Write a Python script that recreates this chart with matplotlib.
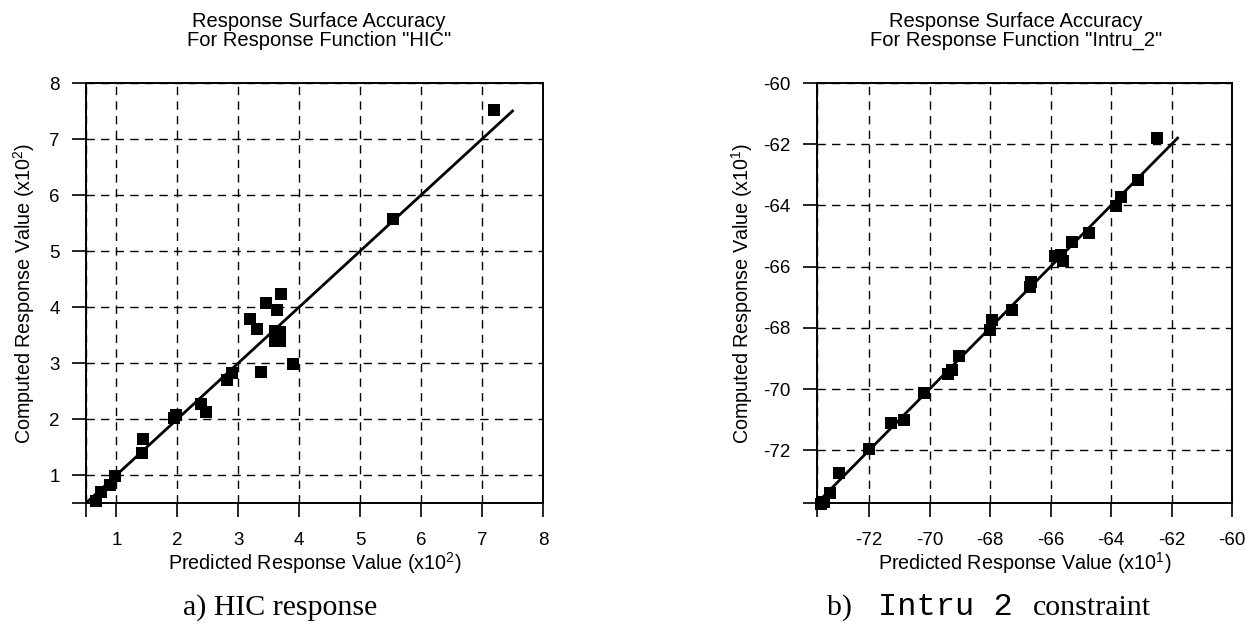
import matplotlib
matplotlib.use('Agg')
import matplotlib.pyplot as plt

plt.rcParams['font.family'] = ['Liberation Sans', 'DejaVu Sans']
plt.rcParams['mathtext.fontset'] = 'custom'
plt.rcParams['mathtext.rm'] = 'Liberation Sans'
plt.rcParams['mathtext.it'] = 'Liberation Sans:italic'

# ---------------- data ----------------
hic_pred = [7.20, 5.54, 3.70, 3.46, 3.63, 3.19, 3.30, 3.60, 3.68, 3.60, 3.68, 3.89,
            3.38, 2.89, 2.81, 2.38, 2.47, 1.97, 1.95, 1.435, 1.42, 0.98, 0.886, 0.74, 0.67]
hic_comp = [7.52, 5.58, 4.24, 4.07, 3.95, 3.78, 3.61, 3.58, 3.55, 3.39, 3.39, 2.98,
            2.84, 2.83, 2.70, 2.27, 2.12, 2.08, 2.01, 1.65, 1.40, 0.99, 0.83, 0.69, 0.54]
hic_fit = [0.5, 7.5]
hic_lim = [0.5, 8]
hic_ticks = [1, 2, 3, 4, 5, 6, 7, 8]
hic_ticklabels = ['1', '2', '3', '4', '5', '6', '7', '8']

intru_pred = [-62.48, -63.11, -63.66, -63.85, -64.72, -65.30, -65.86, -65.64, -65.60,
              -66.63, -66.67, -67.26, -67.92, -68.01, -69.02, -69.25, -69.40, -70.18,
              -70.83, -71.27, -72.00, -72.98, -73.30, -73.50, -73.58]
intru_comp = [-61.79, -63.18, -63.73, -64.02, -64.89, -65.18, -65.66, -65.61, -65.82,
              -66.49, -66.67, -67.41, -67.74, -68.08, -68.92, -69.39, -69.52, -70.13,
              -71.00, -71.10, -71.96, -72.73, -73.39, -73.69, -73.74]
intru_fit = [-73.72, -61.8]
intru_lim = [-73.72, -60]
intru_ticks = [-72, -70, -68, -66, -64, -62, -60]
intru_ticklabels = ['-72', '-70', '-68', '-66', '-64', '-62', '-60']

FS_TICK = 13.5
FS_LABEL = 14.2
FS_TITLE = 14.5
fig = plt.figure(figsize=(12.56, 6.3), dpi=100)
W, H = 1256, 630
ax1 = fig.add_axes([86 / W, 127 / H, 457 / W, 420 / H])
ax2 = fig.add_axes([817 / W, 127 / H, 415 / W, 420 / H])


def style(ax, pred, comp, fit, lim, ticks, labels, title, xlabel, ylabel, ylab_x, title_x):
    ax.plot(fit, fit, color='black', linewidth=2.0, zorder=3)
    ax.plot(pred, comp, linestyle='none', marker='s', markersize=8, markeredgewidth=0,
            color='black', zorder=4, clip_on=False)
    ax.set_xlim(lim)
    ax.set_ylim(lim)
    ax.set_xticks([lim[0]] + ticks)
    ax.set_xticklabels([''] + labels)
    ax.set_yticks([lim[0]] + ticks)
    ax.set_yticklabels([''] + labels)
    ax.grid(True, color='black', linestyle=(0, (6, 4.5)), linewidth=1.0)
    ax.set_axisbelow(True)
    ax.tick_params(direction='out', length=10, width=1.2, labelsize=FS_TICK, colors='black')
    ax.tick_params(axis='x', pad=11)
    ax.tick_params(axis='y', pad=9)
    for s in ax.spines.values():
        s.set_linewidth(1.4)
        s.set_color('black')
    ax.set_title(title, fontsize=FS_TITLE, linespacing=0.95, pad=27, x=title_x)
    ax.set_xlabel(xlabel, fontsize=FS_LABEL)
    ax.xaxis.set_label_coords(0.5, -0.113)
    ax.set_ylabel(ylabel, fontsize=FS_LABEL)
    ax.yaxis.set_label_coords(ylab_x, 0.5)


style(ax1, hic_pred, hic_comp, hic_fit, hic_lim, hic_ticks, hic_ticklabels,
      'Response Surface Accuracy\nFor Response Function "HIC"',
      r'Predicted Response Value (x10$^{\mathregular{2}}$)',
      r'Computed Response Value (x10$^{\mathregular{2}}$)', -0.108, 0.51)
style(ax2, intru_pred, intru_comp, intru_fit, intru_lim, intru_ticks, intru_ticklabels,
      'Response Surface Accuracy\nFor Response Function "Intru_2"',
      r'Predicted Response Value (x10$^{\mathregular{1}}$)',
      r'Computed Response Value (x10$^{\mathregular{1}}$)', -0.15, 0.48)

cap_y = 15 / H
fig.text(280 / W, cap_y, 'a) HIC response', family='Liberation Serif', fontsize=21.5,
         ha='center', va='baseline')
fig.text(827 / W, cap_y, 'b)', family='Liberation Serif', fontsize=21.5,
         ha='left', va='baseline')
fig.text(878 / W, cap_y, 'Intru 2', family='Liberation Mono', fontsize=23,
         ha='left', va='baseline')
fig.text(1033 / W, cap_y, 'constraint', family='Liberation Serif', fontsize=21.5,
         ha='left', va='baseline')

fig.savefig('out.png', dpi=100)
